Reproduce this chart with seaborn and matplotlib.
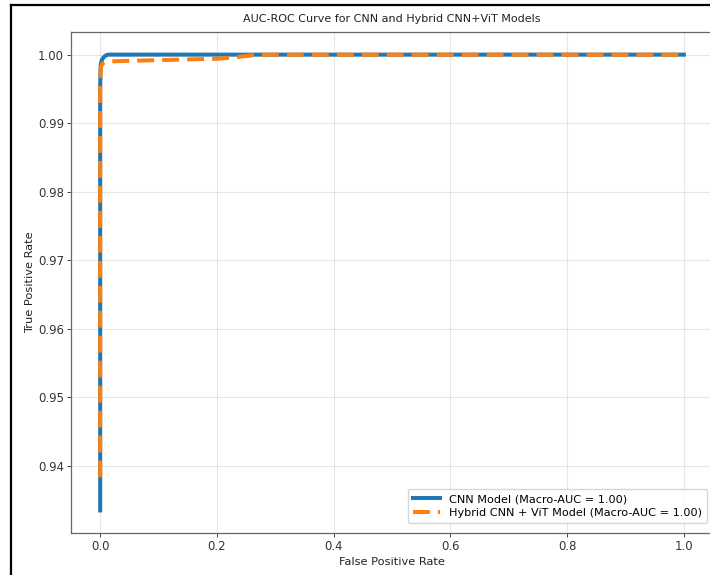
import numpy as np
import pandas as pd
import matplotlib
matplotlib.use("Agg")
import matplotlib.pyplot as plt
import seaborn as sns
from matplotlib.lines import Line2D

# ---- data ----
cnn_fpr = [0.0, 0.0, 0.0005, 0.001, 0.002, 0.004, 0.007, 0.010, 0.014, 0.020, 0.030, 1.0]
cnn_tpr = [0.9335, 0.9950, 0.9975, 0.9985, 0.9990, 0.9994, 0.9997, 0.9999, 1.0, 1.0, 1.0, 1.0]

hyb_fpr = [0.0, 0.0, 0.001, 0.003, 0.006, 0.012, 0.05, 0.10, 0.15, 0.20, 0.23, 0.26, 0.28, 1.0]
hyb_tpr = [0.9383, 0.9960, 0.9980, 0.9986, 0.9988, 0.9990, 0.9991, 0.9992, 0.9993, 0.9994, 0.9996, 0.9999, 1.0, 1.0]

cnn_label = "CNN Model (Macro-AUC = 1.00)"
hyb_label = "Hybrid CNN + ViT Model (Macro-AUC = 1.00)"
title = "AUC-ROC Curve for CNN and Hybrid CNN+ViT Models"
xlabel = "False Positive Rate"
ylabel = "True Positive Rate"

plt.rcParams["font.family"] = ["DejaVu Sans"]

fig = plt.figure(figsize=(7.10, 5.75), dpi=100)
ax = fig.add_axes([0.100, 0.0730, 0.9042, 0.8713])

df_cnn = pd.DataFrame({"fpr": cnn_fpr, "tpr": cnn_tpr})
df_hyb = pd.DataFrame({"fpr": hyb_fpr, "tpr": hyb_tpr})

sns.lineplot(data=df_cnn, x="fpr", y="tpr", ax=ax, sort=False, estimator=None,
             color="#1f77b4", linewidth=2.9, label=cnn_label)
sns.lineplot(data=df_hyb, x="fpr", y="tpr", ax=ax, sort=False, estimator=None,
             color="#ff7f0e", linewidth=2.9, label=hyb_label)
ax.lines[1].set_linestyle((0, (4.2, 2.0)))
ax.lines[1].set_dash_capstyle("butt")

ax.set_xlim(-0.05, 1.05)
ax.set_ylim(0.9302, 1.0033)
ax.set_yticks([0.94, 0.95, 0.96, 0.97, 0.98, 0.99, 1.00])
ax.set_xticks([0.0, 0.2, 0.4, 0.6, 0.8, 1.0])

ax.grid(True, color="#b0b0b0", alpha=0.3, linewidth=0.8)
ax.set_axisbelow(True)
for s in ax.spines.values():
    s.set_color("#666666")
    s.set_linewidth(0.9)
ax.tick_params(labelsize=8.4, length=2.6, width=0.7, colors="#444444", pad=2.5)
for t in ax.get_xticklabels() + ax.get_yticklabels():
    t.set_color("#333333")

ax.set_title(title, fontsize=8.0, color="#222222", pad=7)
ax.set_xlabel(xlabel, fontsize=8.2, color="#222222", labelpad=3)
ax.set_ylabel(ylabel, fontsize=8.2, color="#222222", labelpad=2)

leg = ax.legend(loc="lower right", bbox_to_anchor=(0.9907, 0.02), borderaxespad=0,
                fontsize=8.1, handlelength=2.4, framealpha=0.8, borderpad=0.45,
                labelspacing=0.35)
leg.get_frame().set_edgecolor("#cccccc")

# screenshot border (left and top)
fig.add_artist(Line2D([11 / 710, 11 / 710], [0, 1 - 5 / 575], transform=fig.transFigure,
                      color="black", linewidth=1.6))
fig.add_artist(Line2D([11 / 710, 1], [1 - 5 / 575, 1 - 5 / 575], transform=fig.transFigure,
                      color="black", linewidth=1.6))

fig.savefig("out.png", dpi=100, facecolor="white")
